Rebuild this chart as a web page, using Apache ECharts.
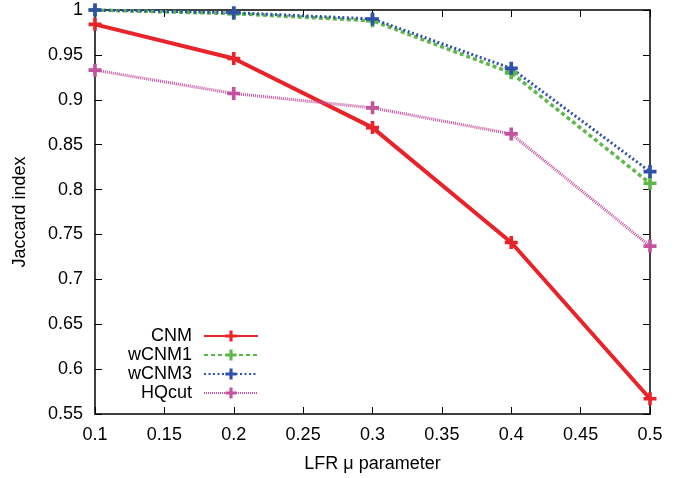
<!DOCTYPE html>
<html><head><meta charset="utf-8">
<script src="https://cdn.jsdelivr.net/npm/echarts@6/dist/echarts.min.js"></script>
<style>html,body{margin:0;padding:0;background:#fff}#c{width:682px;height:478px}</style>
</head><body><div id="c"></div>
<script>
const muValues = [0.1, 0.2, 0.3, 0.4, 0.5];
const cnm   = [0.984, 0.946, 0.869, 0.741, 0.567];
const wcnm1 = [1.0, 0.996, 0.988, 0.930, 0.807];
const wcnm3 = [1.0, 0.997, 0.990, 0.935, 0.820];
const hqcut = [0.933, 0.907, 0.891, 0.862, 0.737];
const seriesNames = ['CNM', 'wCNM1', 'wCNM3', 'HQcut'];
const xTicks = ['0.1','0.15','0.2','0.25','0.3','0.35','0.4','0.45','0.5'];
const yTicks = ['0.55','0.6','0.65','0.7','0.75','0.8','0.85','0.9','0.95','1'];

const plus = 'path://M3.6,0H6.4V3.6H10V6.4H6.4V10H3.6V6.4H0V3.6H3.6Z';
const font = 'Liberation Sans, Arial, sans-serif';
const pairs = arr => muValues.map((x,i)=>[x,arr[i]]);
function mk(name, data, color, width, dash){
  return {name, type:'line', data:pairs(data), symbol:plus, symbolSize:13,
    itemStyle:{color}, lineStyle:{color, width, type:dash},
    emphasis:{disabled:true}, animation:false};
}
const fmtX = v => { const s = xTicks.find(t => Math.abs(parseFloat(t)-v)<1e-6); return s||''; };
const fmtY = v => { const s = yTicks.find(t => Math.abs(parseFloat(t)-v)<1e-6); return s||''; };
const axisCommon = {
  axisLine:{lineStyle:{color:'#000', width:1.5}},
  axisTick:{inside:true, length:7, lineStyle:{color:'#000', width:1}},
  splitLine:{show:false}
};
const chart = echarts.init(document.getElementById('c'));
chart.setOption({
  animation:false,
  grid:{left:95, right:32, top:10, bottom:63},
  legend:{orient:'vertical', right:418, top:322, align:'right', itemWidth:54, itemHeight:14, itemGap:1,
    textStyle:{fontFamily:font, fontSize:18, color:'#000', lineHeight:18, padding:[0,7,0,0]}, data:seriesNames},
  xAxis:[
    Object.assign({type:'value', min:0.1, max:0.5, interval:0.05, position:'bottom',
      name:'LFR μ parameter', nameLocation:'middle', nameGap:41,
      nameTextStyle:{fontFamily:font, fontSize:18, color:'#000'},
      axisLabel:{formatter:fmtX, fontFamily:font, fontSize:18, color:'#000', margin:12}}, axisCommon),
    Object.assign({type:'value', min:0.1, max:0.5, interval:0.05, position:'top',
      axisLabel:{show:false}}, axisCommon)
  ],
  yAxis:[
    Object.assign({type:'value', min:0.55, max:1, interval:0.05, position:'left',
      name:'Jaccard index', nameLocation:'middle', nameGap:66,
      nameTextStyle:{fontFamily:font, fontSize:18, color:'#000'},
      axisLabel:{formatter:fmtY, fontFamily:font, fontSize:18, color:'#000', margin:12}}, axisCommon),
    Object.assign({type:'value', min:0.55, max:1, interval:0.05, position:'right',
      axisLabel:{show:false}}, axisCommon)
  ],
  series:[
    mk(seriesNames[0], cnm, '#e8232a', 4, 'solid'),
    mk(seriesNames[1], wcnm1, '#5cb848', 3.5, [4,3]),
    mk(seriesNames[2], wcnm3, '#2f52a8', 3, [2,2.5]),
    mk(seriesNames[3], hqcut, '#c4539f', 3, [1,1])
  ]
});
</script></body></html>
